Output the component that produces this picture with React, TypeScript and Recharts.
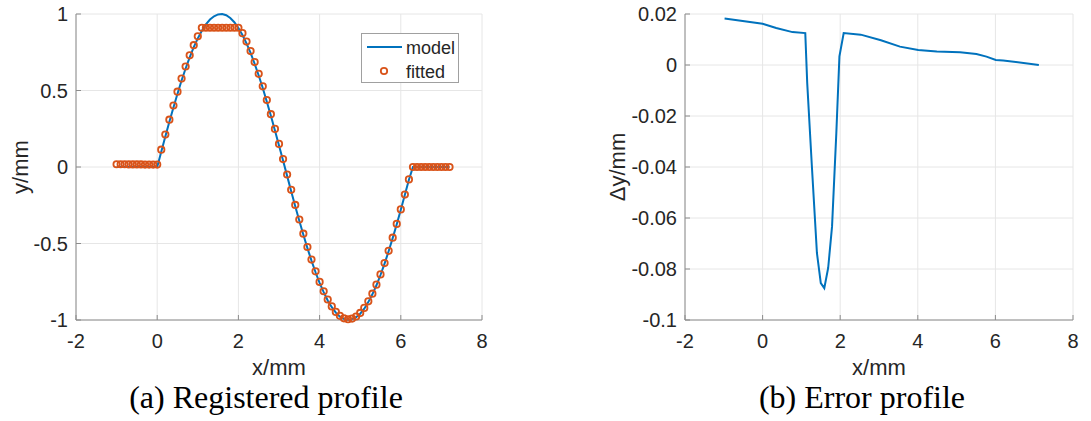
import React from 'react';
import { LineChart, Line, XAxis, YAxis, CartesianGrid, Legend } from 'recharts';

// sample positions of the registered profile (mm)
const profileX = [
  -1.0, -0.9, -0.8, -0.7, -0.6, -0.5, -0.4, -0.3, -0.2, -0.1, 0.0,
  0.1, 0.2, 0.3, 0.4, 0.5, 0.6, 0.7, 0.8, 0.9, 1.0,
  1.1, 1.2, 1.3, 1.4, 1.5, 1.6, 1.7, 1.8, 1.9, 2.0,
  2.1, 2.2, 2.3, 2.4, 2.5, 2.6, 2.7, 2.8, 2.9, 3.0,
  3.1, 3.2, 3.3, 3.4, 3.5, 3.6, 3.7, 3.8, 3.9, 4.0,
  4.1, 4.2, 4.3, 4.4, 4.5, 4.6, 4.7, 4.8, 4.9, 5.0,
  5.1, 5.2, 5.3, 5.4, 5.5, 5.6, 5.7, 5.8, 5.9, 6.0,
  6.1, 6.2, 6.3, 6.4, 6.5, 6.6, 6.7, 6.8, 6.9, 7.0,
  7.1, 7.2,
];

const modelY = [
  0, 0, 0, 0, 0, 0, 0, 0, 0, 0, 0,
  0.100, 0.199, 0.296, 0.389, 0.479, 0.565, 0.644, 0.717, 0.783, 0.841,
  0.891, 0.932, 0.964, 0.985, 0.997, 1.000, 0.992, 0.974, 0.946, 0.909,
  0.863, 0.808, 0.746, 0.675, 0.598, 0.516, 0.427, 0.335, 0.239, 0.141,
  0.042, -0.058, -0.158, -0.256, -0.351, -0.443, -0.530, -0.612, -0.688, -0.757,
  -0.818, -0.872, -0.916, -0.952, -0.978, -0.994, -1.000, -0.996, -0.982, -0.959,
  -0.926, -0.883, -0.832, -0.773, -0.706, -0.631, -0.551, -0.465, -0.374, -0.279,
  -0.182, -0.083, 0, 0, 0, 0, 0, 0, 0, 0,
  0, 0,
];

const fittedY = [
  0.018, 0.018, 0.018, 0.017, 0.017, 0.017, 0.017, 0.016, 0.016, 0.016, 0.016,
  0.113, 0.212, 0.309, 0.402, 0.492, 0.578, 0.657, 0.730, 0.796, 0.854,
  0.91, 0.91, 0.91, 0.91, 0.91, 0.91, 0.91, 0.91, 0.91, 0.91,
  0.875, 0.820, 0.758, 0.686, 0.609, 0.527, 0.438, 0.345, 0.249, 0.151,
  0.052, -0.049, -0.149, -0.248, -0.343, -0.436, -0.523, -0.605, -0.682, -0.751,
  -0.812, -0.866, -0.911, -0.947, -0.973, -0.989, -0.995, -0.991, -0.977, -0.954,
  -0.921, -0.878, -0.828, -0.769, -0.702, -0.628, -0.548, -0.462, -0.372, -0.277,
  -0.180, -0.081, 0, 0, 0, 0, 0, 0, 0, 0,
  0, 0,
];

// error profile
const errorX = [-0.98, 0, 0.35, 0.77, 1.10, 1.15, 1.27, 1.40, 1.50, 1.59, 1.69, 1.79, 1.90, 1.98, 2.09, 2.53, 3.05, 3.54, 4.01, 4.49, 5.09, 5.51, 5.77, 6.01, 6.2, 7.12];
const errorY = [0.0182, 0.0162, 0.0145, 0.0129, 0.0125, -0.0071, -0.0397, -0.0737, -0.0855, -0.0875, -0.0796, -0.0633, -0.0267, 0.0034, 0.0125, 0.0119, 0.0097, 0.0072, 0.0059, 0.0053, 0.005, 0.0043, 0.0033, 0.002, 0.0018, 0.0];

const xTicks = [-2, 0, 2, 4, 6, 8];
const profileTicks = [-1, -0.5, 0, 0.5, 1];
const errorTicks = [-0.1, -0.08, -0.06, -0.04, -0.02, 0, 0.02];

const BLUE = '#0072BD';
const ORANGE = '#D95319';
const AXIS = '#8c8c8c';
const GRID = '#e6e6e6';
const TEXT = '#262626';
const SANS = '"Liberation Sans", Arial, Helvetica, sans-serif';
const SERIF = '"Liberation Serif", "Times New Roman", serif';

const tickStyle = { fontSize: 20, fill: TEXT, fontFamily: SANS };

const profileData = profileX.map((x, i) => ({ x, model: modelY[i], fitted: fittedY[i] }));
const errorData = errorX.map((x, i) => ({ x, err: errorY[i] }));

// x axis title plus the sub-figure caption underneath
const xLabel = (captionX: number, caption: string) => (props: any) => {
  const vb = props.viewBox || { x: 0, width: 0 };
  const cx = vb.x + vb.width / 2;
  return (
    <g>
      <text x={cx} y={375} textAnchor="middle" fontSize={22} fill={TEXT} fontFamily={SANS}>x/mm</text>
      <text x={captionX} y={408} textAnchor="middle" fontSize={32} fill="#000" fontFamily={SERIF}>{caption}</text>
    </g>
  );
};

const yLabel = (text: string, x: number) => (props: any) => {
  const vb = props.viewBox || { y: 14, height: 306 };
  const cy = vb.y + vb.height / 2;
  return (
    <text x={x} y={cy} transform={`rotate(-90 ${x} ${cy})`} textAnchor="middle" dominantBaseline="central"
      fontSize={22} fill={TEXT} fontFamily={SANS}>{text}</text>
  );
};

const ProfileLegend = () => (
  <div style={{ width: 98, height: 50, boxSizing: 'border-box', border: '1px solid #a0a0a0', background: '#fff' }}>
    <svg width={96} height={48} style={{ display: 'block' }}>
      <line x1={5} x2={40} y1={13} y2={13} stroke={BLUE} strokeWidth={2} />
      <text x={44} y={19.5} fontSize={18} fill={TEXT} fontFamily={SANS}>model</text>
      <circle cx={22} cy={37} r={3.2} fill="none" stroke={ORANGE} strokeWidth={1.8} />
      <text x={44} y={43.5} fontSize={18} fill={TEXT} fontFamily={SANS}>fitted</text>
    </svg>
  </div>
);

const boxAxes = (ticksY: number[], domainY: number[]) => [
  <XAxis key="top" xAxisId="top" orientation="top" type="number" domain={[-2, 8]} ticks={xTicks}
    tick={false} height={0} tickSize={-5} axisLine={{ stroke: AXIS }} tickLine={{ stroke: AXIS }} />,
  <YAxis key="right" yAxisId="right" orientation="right" type="number" domain={domainY} ticks={ticksY}
    tick={false} width={0} tickSize={-5} axisLine={{ stroke: AXIS }} tickLine={{ stroke: AXIS }} />,
];

export default function App() {
  return (
    <div style={{ position: 'absolute', left: 0, top: 0, width: 1091, height: 421, background: '#fff' }}>
      <div style={{ position: 'absolute', left: 0, top: 0 }}>
        <LineChart width={500} height={421} data={profileData} margin={{ top: 14, right: 18, bottom: 0, left: 0 }}>
          <CartesianGrid stroke={GRID} />
          <XAxis dataKey="x" type="number" domain={[-2, 8]} ticks={xTicks} height={101}
            tick={tickStyle} tickSize={-5} tickMargin={19} axisLine={{ stroke: AXIS }} tickLine={{ stroke: AXIS }}
            label={{ content: xLabel(266, '(a) Registered profile') }} />
          <YAxis type="number" domain={[-1, 1]} ticks={profileTicks} width={76}
            tick={tickStyle} tickSize={-5} tickMargin={13} axisLine={{ stroke: AXIS }} tickLine={{ stroke: AXIS }}
            label={{ content: yLabel('y/mm', 20) }} />
          {boxAxes(profileTicks, [-1, 1])}
          <Legend layout="vertical" align="center" verticalAlign="middle" content={<ProfileLegend />}
            wrapperStyle={{ left: 361, top: 33, width: 98, height: 50 }} />
          <Line dataKey="model" type="linear" stroke={BLUE} strokeWidth={2} dot={false} isAnimationActive={false} />
          <Line dataKey="fitted" type="linear" stroke="none" isAnimationActive={false}
            dot={{ r: 3.2, stroke: ORANGE, strokeWidth: 1.8, fill: 'none' }} activeDot={false} />
        </LineChart>
      </div>
      <div style={{ position: 'absolute', left: 545, top: 0 }}>
        <LineChart width={546} height={421} data={errorData} margin={{ top: 14, right: 18, bottom: 0, left: 0 }}>
          <CartesianGrid stroke={GRID} />
          <XAxis dataKey="x" type="number" domain={[-2, 8]} ticks={xTicks} height={101}
            tick={tickStyle} tickSize={-5} tickMargin={19} axisLine={{ stroke: AXIS }} tickLine={{ stroke: AXIS }}
            label={{ content: xLabel(317, '(b) Error profile') }} />
          <YAxis type="number" domain={[-0.1, 0.02]} ticks={errorTicks} width={140}
            tick={tickStyle} tickSize={-5} tickMargin={13} axisLine={{ stroke: AXIS }} tickLine={{ stroke: AXIS }}
            label={{ content: yLabel('Δy/mm', 72) }} />
          {boxAxes(errorTicks, [-0.1, 0.02])}
          <Line dataKey="err" type="linear" stroke={BLUE} strokeWidth={2} dot={false} isAnimationActive={false} />
        </LineChart>
      </div>
    </div>
  );
}
